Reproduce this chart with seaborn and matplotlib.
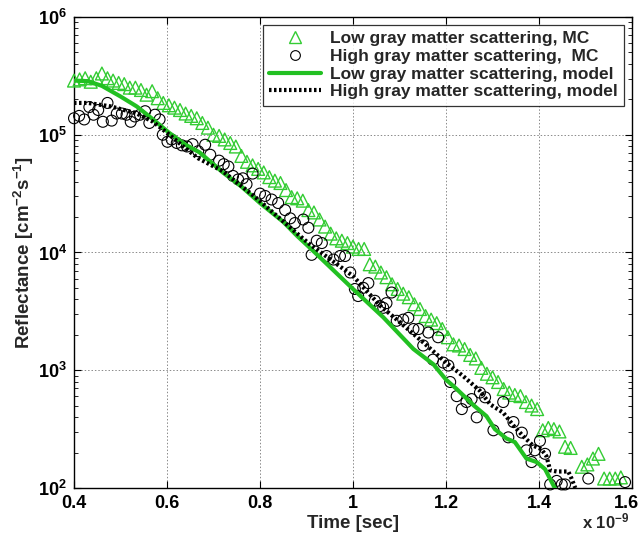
import numpy as np
import pandas as pd
import matplotlib
matplotlib.use("Agg")
import matplotlib.pyplot as plt
import seaborn as sns
from matplotlib.ticker import FixedLocator, LogLocator, FuncFormatter, NullFormatter
from matplotlib.lines import Line2D
from matplotlib.transforms import ScaledTranslation

# ---------------- data (time in units of 1e-9 s, reflectance as log10) ----------------
low_mc_t = [0.400, 0.412, 0.424, 0.436, 0.448, 0.460, 0.472, 0.484, 0.496, 0.508,
            0.520, 0.532, 0.544, 0.556, 0.568, 0.580, 0.592, 0.604, 0.616, 0.628,
            0.640, 0.652, 0.664, 0.676, 0.688, 0.700, 0.712, 0.724, 0.736, 0.748,
            0.760, 0.772, 0.784, 0.796, 0.808, 0.820, 0.832, 0.844, 0.856, 0.868,
            0.880, 0.892, 0.904, 0.916, 0.928, 0.940, 0.952, 0.964, 0.976, 0.988,
            1.000, 1.012, 1.024, 1.036, 1.048, 1.060, 1.072, 1.084, 1.096, 1.108,
            1.120, 1.132, 1.144, 1.156, 1.168, 1.180, 1.192, 1.204, 1.216, 1.228,
            1.240, 1.252, 1.264, 1.276, 1.288, 1.300, 1.312, 1.324, 1.336, 1.348,
            1.360, 1.372, 1.384, 1.396, 1.408, 1.420, 1.432, 1.444, 1.456, 1.468,
            1.492, 1.504, 1.516, 1.528, 1.540, 1.552, 1.564, 1.576]
low_mc_log = [5.46, 5.47, 5.48, 5.45, 5.48, 5.52, 5.48, 5.46, 5.44, 5.43,
              5.40, 5.40, 5.38, 5.34, 5.37, 5.31, 5.27, 5.25, 5.23, 5.21,
              5.18, 5.16, 5.14, 5.10, 5.06, 5.00, 4.99, 4.96, 4.93, 4.90,
              4.82, 4.77, 4.74, 4.71, 4.68, 4.64, 4.61, 4.59, 4.53, 4.47,
              4.46, 4.44, 4.36, 4.34, 4.28, 4.22, 4.16, 4.12, 4.10, 4.08,
              4.05, 4.03, 4.03, 3.90, 3.88, 3.83, 3.79, 3.73, 3.69, 3.65,
              3.62, 3.56, 3.52, 3.46, 3.43, 3.40, 3.35, 3.28, 3.22, 3.21,
              3.18, 3.13, 3.10, 3.02, 2.97, 2.94, 2.90, 2.84, 2.81, 2.79,
              2.78, 2.73, 2.70, 2.67, 2.49, 2.51, 2.50, 2.48, 2.35, 2.34,
              2.18, 2.20, 2.25, 2.29, 2.08, 2.08, 2.08, 2.09]

high_mc_t = [0.400, 0.411, 0.422, 0.433, 0.442, 0.452, 0.462, 0.472, 0.481, 0.492,
             0.503, 0.513, 0.522, 0.531, 0.542, 0.553, 0.562, 0.574, 0.584, 0.591,
             0.601, 0.610, 0.621, 0.632, 0.643, 0.655, 0.667, 0.682, 0.693, 0.712,
             0.722, 0.732, 0.742, 0.753, 0.763, 0.771, 0.784, 0.800, 0.811, 0.825,
             0.839, 0.854, 0.865, 0.875, 0.893, 0.904, 0.911, 0.922, 0.933, 0.943,
             0.958, 0.972, 0.983, 0.994, 1.004, 1.011, 1.022, 1.033, 1.047, 1.058,
             1.065, 1.072, 1.083, 1.094, 1.108, 1.119, 1.130, 1.141, 1.151, 1.162,
             1.172, 1.183, 1.194, 1.205, 1.209, 1.223, 1.234, 1.244, 1.255, 1.266,
             1.273, 1.284, 1.302, 1.323, 1.334, 1.345, 1.363, 1.373, 1.384, 1.391,
             1.402, 1.413, 1.424, 1.438, 1.449, 1.456, 1.506, 1.585]
high_mc_log = [5.14, 5.16, 5.13, 5.235, 5.17, 5.21, 5.11, 5.27, 5.12, 5.18,
               5.18, 5.17, 5.11, 5.155, 5.17, 5.20, 5.10, 5.17, 5.13, 5.00,
               4.94, 4.96, 4.93, 4.91, 4.90, 4.92, 4.86, 4.915, 4.83, 4.78,
               4.75, 4.73, 4.65, 4.62, 4.63, 4.58, 4.67, 4.50, 4.48, 4.45,
               4.42, 4.36, 4.29, 4.25, 4.28, 4.21, 3.98, 4.10, 4.08, 3.97,
               3.94, 3.97, 3.97, 3.83, 3.69, 3.63, 3.70, 3.74, 3.59, 3.545,
               3.53, 3.57, 3.66, 3.42, 3.43, 3.445, 3.35, 3.35, 3.21, 3.32,
               3.09, 3.28, 3.065, 3.04, 2.90, 2.78, 2.67, 2.73, 2.755, 2.60,
               2.81, 2.77, 2.49, 2.73, 2.43, 2.56, 2.47, 2.32, 2.22, 2.32,
               2.40, 2.29, 2.03, 2.06, 2.03, 2.03, 2.08, 2.05]

low_model_t = [0.400, 0.430, 0.460, 0.500, 0.535, 0.570, 0.605, 0.640, 0.670, 0.720,
               0.760, 0.800, 0.850, 0.880, 0.910, 1.000, 1.065, 1.130, 1.173, 1.200,
               1.223, 1.260, 1.287, 1.305, 1.330, 1.348, 1.373, 1.395, 1.413, 1.434]
low_model_log = [5.46, 5.455, 5.415, 5.325, 5.24, 5.13, 5.015, 4.915, 4.85, 4.68,
                 4.56, 4.42, 4.26, 4.14, 4.03, 3.69, 3.45, 3.18, 3.05, 2.92,
                 2.84, 2.70, 2.61, 2.50, 2.42, 2.39, 2.25, 2.22, 2.16, 2.00]

high_model_t = [0.400, 0.430, 0.480, 0.535, 0.570, 0.605, 0.635, 0.667, 0.720, 0.790,
                0.886, 0.907, 1.000, 1.058, 1.100, 1.150, 1.200, 1.237, 1.273, 1.295,
                1.323, 1.345, 1.366, 1.387, 1.405, 1.416, 1.424, 1.438, 1.463, 1.470,
                1.478]
high_model_log = [5.27, 5.27, 5.24, 5.18, 5.11, 5.00, 4.90, 4.80, 4.69, 4.47,
                  4.14, 4.07, 3.80, 3.55, 3.41, 3.24, 3.065, 2.95, 2.825, 2.71,
                  2.64, 2.53, 2.44, 2.36, 2.33, 2.27, 2.15, 2.14, 2.14, 2.08,
                  2.00]

x_ticks = [0.4, 0.6, 0.8, 1.0, 1.2, 1.4, 1.6]
x_tick_labels = ["0.4", "0.6", "0.8", "1", "1.2", "1.4", "1.6"]
y_tick_exps = [2, 3, 4, 5, 6]

labels = ["Low gray matter scattering, MC",
          "High gray matter scattering,  MC",
          "Low gray matter scattering, model",
          "High gray matter scattering, model"]

# ---------------- style ----------------
sns.set_style("ticks")
plt.rcParams["font.family"] = ["Liberation Sans", "DejaVu Sans"]
plt.rcParams["font.weight"] = "bold"
plt.rcParams["mathtext.fontset"] = "custom"
plt.rcParams["mathtext.rm"] = "Liberation Sans:bold"
plt.rcParams["mathtext.bf"] = "Liberation Sans:bold"
plt.rcParams["mathtext.it"] = "Liberation Sans:bold"

GREEN_MK = "#33cc33"
GREEN_LN = "#22c022"

df_low_mc = pd.DataFrame({"t": low_mc_t, "R": 10 ** np.array(low_mc_log)})
df_high_mc = pd.DataFrame({"t": high_mc_t, "R": 10 ** np.array(high_mc_log)})
df_low_md = pd.DataFrame({"t": low_model_t, "R": 10 ** np.array(low_model_log)})
df_high_md = pd.DataFrame({"t": high_model_t, "R": 10 ** np.array(high_model_log)})

fig = plt.figure(figsize=(6.43, 5.41), dpi=100)
ax = fig.add_axes([0.1151, 0.098, 0.8678, 0.8706])
ax.set_yscale("log")

sns.scatterplot(data=df_low_mc, x="t", y="R", ax=ax, marker="^", s=85,
                facecolors="none", edgecolors=GREEN_MK, linewidths=1.0,
                clip_on=False, zorder=3)
sns.scatterplot(data=df_high_mc, x="t", y="R", ax=ax, marker="o", s=62,
                facecolors="none", edgecolors="black", linewidths=0.8,
                clip_on=False, zorder=3)
sns.lineplot(data=df_low_md, x="t", y="R", ax=ax, color=GREEN_LN, lw=3,
             sort=False, zorder=4)
sns.lineplot(data=df_high_md, x="t", y="R", ax=ax, color="black", lw=3,
             linestyle=(0, (0.6, 0.6)), sort=False, zorder=5)

ax.set_xlim(0.4, 1.6)
ax.set_ylim(1e2, 1e6)

ax.xaxis.set_major_locator(FixedLocator(x_ticks))
ax.set_xticklabels(x_tick_labels)
ax.yaxis.set_major_locator(FixedLocator([10.0 ** e for e in y_tick_exps]))
ax.yaxis.set_major_formatter(FuncFormatter(lambda v, p: r"$\mathbf{10^{%d}}$" % int(round(np.log10(v)))))
ax.yaxis.set_minor_locator(LogLocator(base=10, subs=np.arange(2, 10)))
ax.yaxis.set_minor_formatter(NullFormatter())

ax.tick_params(axis="both", which="both", direction="in", top=True, right=True,
               labelsize=13, colors="black")
ax.tick_params(axis="both", which="major", length=5, width=0.8, pad=5)
ax.tick_params(axis="y", which="minor", length=3, width=0.6)
for lab in ax.get_xticklabels() + ax.get_yticklabels():
    lab.set_fontweight("bold")
# keep the last x tick label inside the figure edge
last = ax.get_xticklabels()[-1]
last.set_transform(last.get_transform() + ScaledTranslation(-4 / 72, 0, fig.dpi_scale_trans))

ax.grid(True, which="major", linestyle=(0, (1.5, 2)), color="#8a8a8a", linewidth=0.7)
for sp in ax.spines.values():
    sp.set_visible(True)
    sp.set_color("black")
    sp.set_linewidth(1.0)

ax.set_xlabel("Time [sec]", fontsize=13.5, fontweight="bold", labelpad=2)
ax.set_ylabel(r"Reflectance [cm$^{-2}$s$^{-1}$]", fontsize=13.5, fontweight="bold", labelpad=1)

fig.text(0.905, 0.018, r"x 10$^{-9}$", fontsize=12, fontweight="bold", ha="left", va="bottom")

handles = [
    Line2D([], [], linestyle="none", marker="^", markersize=9, markerfacecolor="none",
           markeredgecolor=GREEN_MK, markeredgewidth=1.0),
    Line2D([], [], linestyle="none", marker="o", markersize=7, markerfacecolor="none",
           markeredgecolor="black", markeredgewidth=0.8),
    Line2D([], [], color=GREEN_LN, lw=3),
    Line2D([], [], color="black", lw=3, linestyle=(0, (0.6, 0.6))),
]
leg = ax.legend(handles, labels, loc="upper right", bbox_to_anchor=(0.985, 0.983),
                borderaxespad=0, fontsize=12.5, handlelength=3.0, handletextpad=0.5,
                labelspacing=0.15, borderpad=0.35, frameon=True, fancybox=False)
leg.get_frame().set_edgecolor("black")
leg.get_frame().set_linewidth(0.9)
for t in leg.get_texts():
    t.set_fontweight("bold")

fig.savefig("out.png", dpi=100)
